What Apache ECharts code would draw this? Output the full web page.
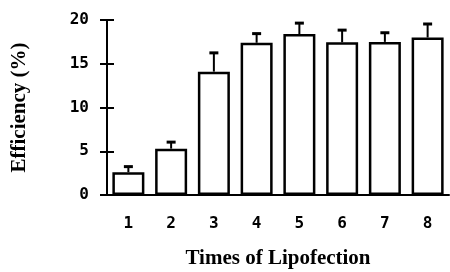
<!DOCTYPE html>
<html>
<head>
<meta charset="utf-8">
<script src="https://cdn.jsdelivr.net/npm/echarts@6/dist/echarts.min.js"></script>
<style>
html,body{margin:0;padding:0;background:#fff;}
#chart{width:450px;height:272px;}
</style>
</head>
<body>
<div id="chart"></div>
<script>
// times of lipofection
var categories = ['1', '2', '3', '4', '5', '6', '7', '8'];
// mean efficiency (%)
var means = [2.6, 5.3, 14.1, 17.4, 18.4, 17.45, 17.5, 18.0];
// top of error bar (%)
var upper = [3.3, 6.1, 16.3, 18.5, 19.7, 18.9, 18.6, 19.6];
var yTicks = [0, 5, 10, 15, 20];

var errData = [];
for (var i = 0; i < categories.length; i++) {
    errData.push([i, means[i], upper[i]]);
}

var chart = echarts.init(document.getElementById('chart'));
var tickFont = {fontFamily: 'DejaVu Sans Mono', fontWeight: 'bold', fontSize: 16, color: '#000'};

var option = {
    animation: false,
    grid: {left: 107, right: 1, top: 20, bottom: 77, outerBoundsMode: 'none', containLabel: false},
    xAxis: {
        type: 'category',
        data: categories,
        name: 'Times of Lipofection',
        nameLocation: 'middle',
        nameGap: 53,
        nameTextStyle: {fontFamily: 'Liberation Serif', fontWeight: 'bold', fontSize: 21, color: '#000'},
        axisLine: {lineStyle: {color: '#000', width: 2}},
        axisTick: {show: false},
        axisLabel: Object.assign({margin: 21}, tickFont)
    },
    yAxis: [
        {
            type: 'value',
            min: yTicks[0],
            max: yTicks[yTicks.length - 1],
            interval: 5,
            name: 'Efficiency (%)',
            nameLocation: 'middle',
            nameGap: 77,
            nameTextStyle: {fontFamily: 'Liberation Serif', fontWeight: 'bold', fontSize: 21, color: '#000'},
            axisLine: {show: true, lineStyle: {color: '#000', width: 2}},
            axisTick: {show: true, length: 7, lineStyle: {color: '#000', width: 2}},
            axisLabel: Object.assign({margin: 18}, tickFont),
            splitLine: {show: false}
        },
        {
            type: 'value',
            position: 'left',
            min: yTicks[0],
            max: yTicks[yTicks.length - 1],
            interval: 5,
            axisLine: {show: false},
            axisTick: {show: true, inside: true, length: 7, lineStyle: {color: '#000', width: 2}},
            axisLabel: {show: false},
            splitLine: {show: false}
        }
    ],
    series: [
        {
            type: 'bar',
            data: means,
            barWidth: 32,
            itemStyle: {color: '#fff', borderColor: '#000', borderWidth: 2.5}
        },
        {
            type: 'custom',
            data: errData,
            z: 5,
            renderItem: function (params, api) {
                var base = api.coord([api.value(0), api.value(1)]);
                var top = api.coord([api.value(0), api.value(2)]);
                return {
                    type: 'group',
                    children: [
                        {type: 'line', shape: {x1: base[0], y1: base[1], x2: top[0], y2: top[1]}, style: {stroke: '#000', lineWidth: 2}},
                        {type: 'line', shape: {x1: top[0] - 4.5, y1: top[1] + 0.5, x2: top[0] + 4.5, y2: top[1] + 0.5}, style: {stroke: '#000', lineWidth: 3}}
                    ]
                };
            }
        }
    ]
};
chart.setOption(option);
</script>
</body>
</html>
